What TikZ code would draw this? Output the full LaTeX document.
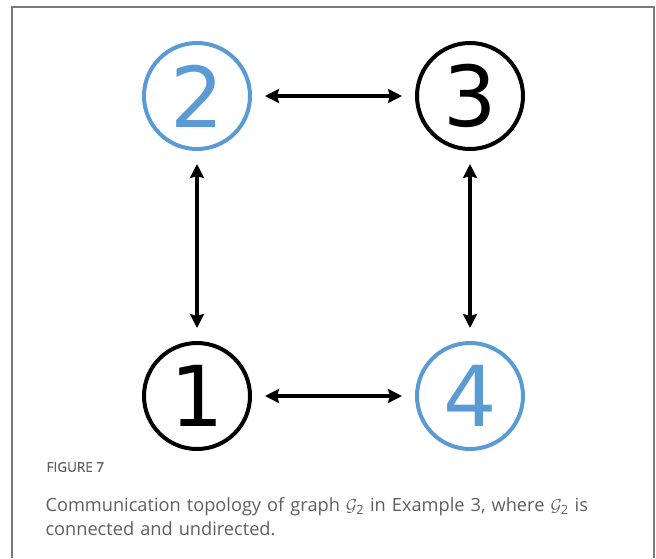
\documentclass[tikz,border=0pt]{standalone}
\usepackage{fontspec}
\usepackage{amsmath}
\newfontfamily\digitfont{DejaVu Sans}
\newfontfamily\capfont{Open Sans}
\newfontfamily\capheadfont[FakeBold=0.8]{Open Sans}
\usepackage{tikz}
\usetikzlibrary{arrows.meta,positioning}

\definecolor{agentblue}{HTML}{5B9BD5}
\definecolor{capgray}{HTML}{5F5F5F}
\definecolor{framegray}{HTML}{7A7A7A}

\begin{document}
\begin{tikzpicture}[
  x=1pt, y=-1pt,
  agent/.style={circle, draw, line width=4pt, minimum size=106pt, inner sep=0pt,
    font=\digitfont\fontsize{84}{84}\selectfont},
  leader/.style={agent, draw=agentblue, text=agentblue},
  link/.style={{Stealth[length=14pt,width=14pt,inset=2pt]}-{Stealth[length=14pt,width=14pt,inset=2pt]},
    line width=4pt, shorten <=13pt, shorten >=13pt},
  node distance=163pt and 163pt
]
\useasboundingbox (0,0) rectangle (656,558);

% frame
\draw[framegray, line width=1.5pt] (12,558) -- (12,7) -- (654,7) -- (654,558);

% ===== AGENTS =====
\node[leader] (n2) at (197,96) {2};
\node[agent, right=of n2] (n3) {3};
\node[agent, below=190pt of n2] (n1) {1};
\node[leader, right=of n1] (n4) {4};

% ===== LINKS =====
\draw[link] (n2) -- (n3);
\draw[link] (n2) -- (n1);
\draw[link] (n3) -- (n4);
\draw[link] (n1) -- (n4);

% ===== CAPTION =====
\node[anchor=west, text=capgray, font=\capheadfont\fontsize{13.5}{15}\selectfont] (figno)
  at (43,467) {FIGURE 7};
\node[anchor=north west, text=capgray, text width=590pt, align=left,
  font=\capfont\fontsize{18.2}{24.5}\selectfont] (cap) at (42,494)
  {Communication topology of graph $\mathcal{G}_{\text{2}}$ in Example 3, where $\mathcal{G}_{\text{2}}$ is\\
   connected and undirected.};
\end{tikzpicture}
\end{document}
